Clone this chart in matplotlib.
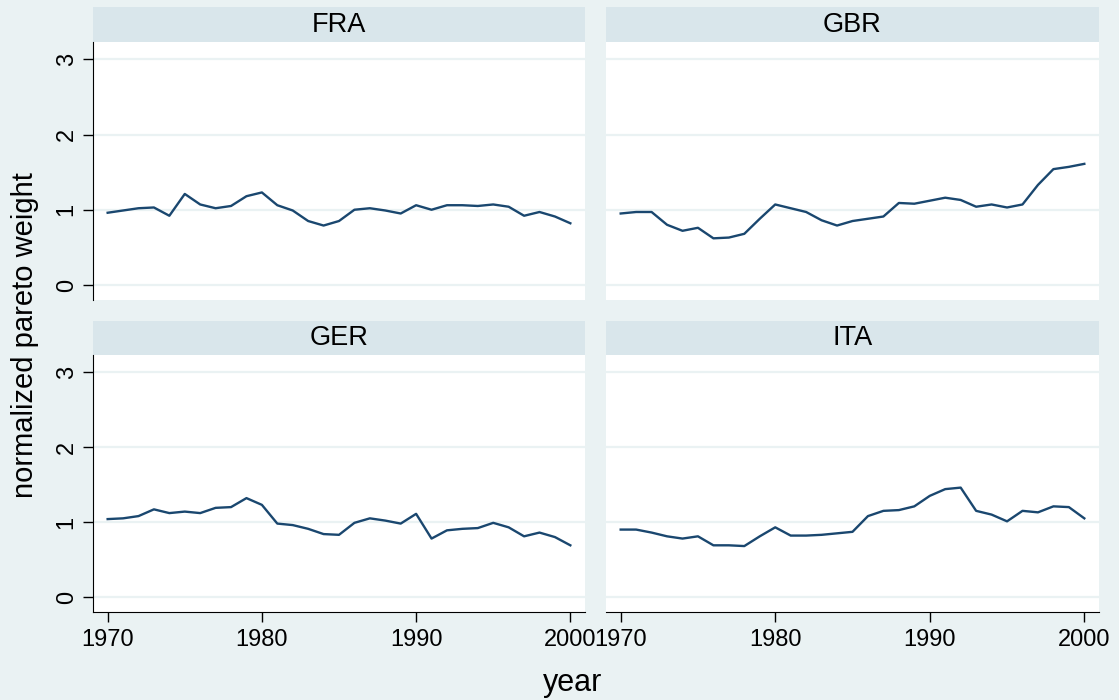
import matplotlib.pyplot as plt
import matplotlib

matplotlib.rcParams["font.family"] = ["Liberation Sans", "DejaVu Sans"]

BG = "#EAF2F3"
HEADER = "#D9E6EB"
LINE = "#1A476F"

years = list(range(1970, 2001))

fra = [0.96, 0.99, 1.02, 1.03, 0.92, 1.21, 1.07, 1.02, 1.05, 1.18, 1.23,
       1.06, 0.99, 0.85, 0.79, 0.85, 1.00, 1.02, 0.99, 0.95, 1.06,
       1.00, 1.06, 1.06, 1.05, 1.07, 1.04, 0.92, 0.97, 0.91, 0.82]
gbr = [0.95, 0.97, 0.97, 0.80, 0.72, 0.76, 0.62, 0.63, 0.68, 0.88, 1.07,
       1.02, 0.97, 0.86, 0.79, 0.85, 0.88, 0.91, 1.09, 1.08, 1.12,
       1.16, 1.13, 1.04, 1.07, 1.03, 1.07, 1.33, 1.54, 1.57, 1.61]
ger = [1.04, 1.05, 1.08, 1.17, 1.12, 1.14, 1.12, 1.19, 1.20, 1.32, 1.23,
       0.98, 0.96, 0.91, 0.84, 0.83, 0.99, 1.05, 1.02, 0.98, 1.11,
       0.78, 0.89, 0.91, 0.92, 0.99, 0.93, 0.81, 0.86, 0.80, 0.69]
ita = [0.90, 0.90, 0.86, 0.81, 0.78, 0.81, 0.69, 0.69, 0.68, 0.81, 0.93,
       0.82, 0.82, 0.83, 0.85, 0.87, 1.08, 1.15, 1.16, 1.21, 1.35,
       1.44, 1.46, 1.15, 1.10, 1.01, 1.15, 1.13, 1.21, 1.20, 1.05]

countries = ["FRA", "GBR", "GER", "ITA"]
series = [fra, gbr, ger, ita]

W, H = 1119, 700
fig = plt.figure(figsize=(W / 100, H / 100), dpi=100, facecolor=BG)


def px_box(x0, y0, x1, y1):
    return [x0 / W, 1 - y1 / H, (x1 - x0) / W, (y1 - y0) / H]


cols = [(93, 585), (606, 1099)]
rows = [(7, 42, 300), (321, 355, 612)]

for i, (name, vals) in enumerate(zip(countries, series)):
    r, c = divmod(i, 2)
    x0, x1 = cols[c]
    h0, p0, p1 = rows[r]

    # panel header strip
    hax = fig.add_axes(px_box(x0, h0, x1, p0))
    hax.set_facecolor(HEADER)
    hax.set_xticks([])
    hax.set_yticks([])
    for s in hax.spines.values():
        s.set_visible(False)
    hax.text(0.5, 0.5, name, ha="center", va="center", fontsize=19.5,
             transform=hax.transAxes)

    ax = fig.add_axes(px_box(x0, p0, x1, p1))
    ax.set_facecolor("white")
    ax.plot(years, vals, color=LINE, linewidth=1.7, zorder=3)
    ax.set_xlim(1969.05, 2000.95)
    ax.set_ylim(-0.2, 3.23)
    ax.set_yticks([0, 1, 2, 3])
    ax.set_xticks([1970, 1980, 1990, 2000])
    ax.grid(True, axis="y", color=BG, linewidth=1.6, zorder=1)
    for s in ["top", "right"]:
        ax.spines[s].set_visible(False)
    ax.spines["left"].set_visible(c == 0)
    ax.spines["bottom"].set_visible(r == 1)
    ax.tick_params(axis="y", left=(c == 0), labelleft=(c == 0),
                   length=7, width=1, labelsize=17, labelrotation=90, pad=4)
    ax.tick_params(axis="x", bottom=(r == 1), labelbottom=(r == 1),
                   length=7, width=1, labelsize=17, pad=5)
    for lab in ax.get_yticklabels():
        lab.set_va("center")

fig.text(25 / W, 1 - 335 / H, "normalized pareto weight", rotation=90,
         ha="center", va="center", fontsize=21)
fig.text(573 / W, 1 - 683 / H, "year", ha="center", va="center", fontsize=22)

fig.savefig("out.png", dpi=100, facecolor=BG)
